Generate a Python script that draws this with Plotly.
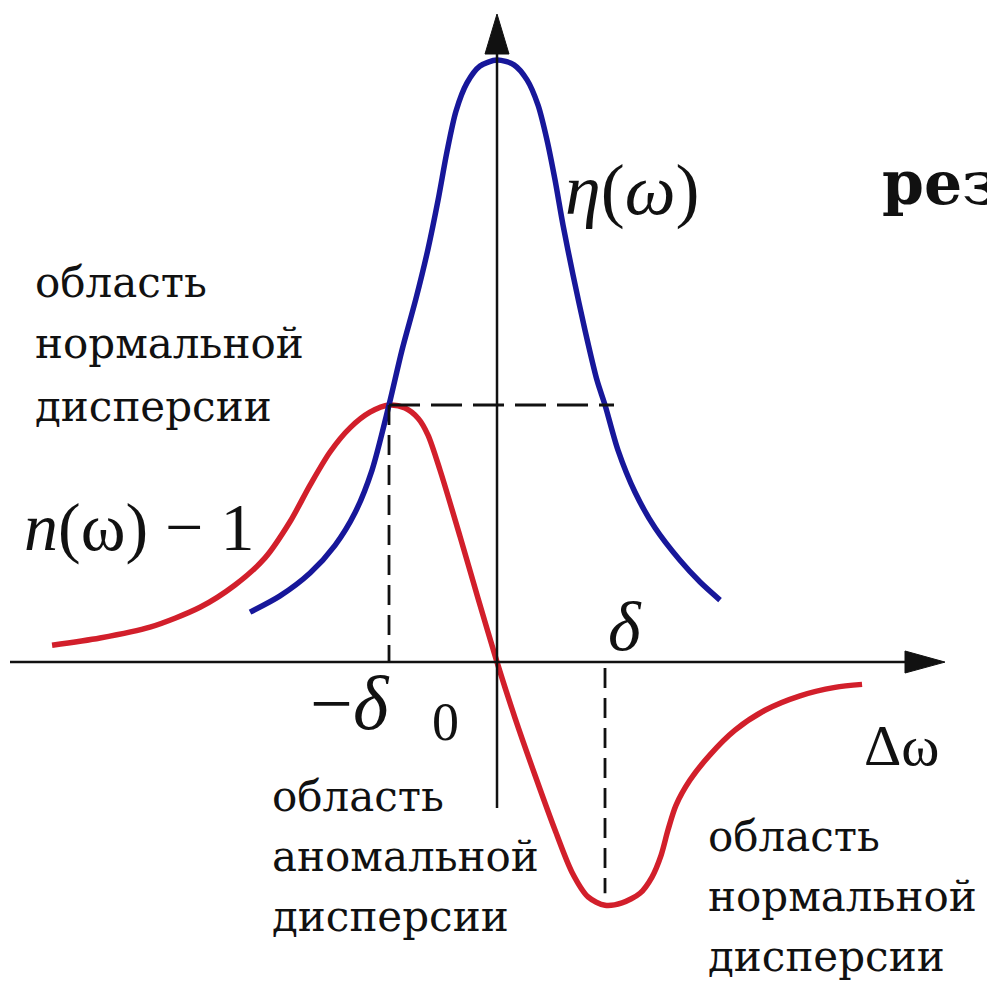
import plotly.graph_objects as go

# Frequency detuning in units of the line half-width delta
DELTA = 1.0

# Absorption coefficient eta(omega), normalised to its peak value
eta_x = [-2.287, -2.009, -1.731, -1.500, -1.315, -1.157, -1.0, -0.880, -0.750,
         -0.639, -0.546, -0.463, -0.380, -0.278, -0.157, 0.0,
         0.157, 0.278, 0.380, 0.463, 0.537, 0.611, 0.704, 0.815, 0.926,
         1.0, 1.120, 1.278, 1.463, 1.694, 1.880, 2.065]
eta_y = [0.083, 0.110, 0.148, 0.194, 0.248, 0.319, 0.427, 0.518, 0.604,
         0.686, 0.767, 0.848, 0.915, 0.962, 0.990, 1.0,
         0.992, 0.967, 0.925, 0.867, 0.801, 0.726, 0.643, 0.551, 0.468,
         0.427, 0.352, 0.282, 0.223, 0.169, 0.133, 0.103]

# Refractive index minus one, n(omega) - 1
n_x = [-4.120, -3.676, -3.213, -2.750, -2.426, -2.148, -1.917, -1.731, -1.546,
       -1.361, -1.176, -1.0, -0.852, -0.731, -0.639, -0.528, -0.343, -0.176,
       0.0, 0.167, 0.352, 0.537, 0.694, 0.843, 1.0, 1.157, 1.324, 1.435,
       1.519, 1.583, 1.657, 1.787, 1.972, 2.204, 2.481, 2.806, 3.130, 3.380]
n_y = [0.028, 0.040, 0.058, 0.091, 0.128, 0.173, 0.233, 0.294, 0.349,
       0.389, 0.415, 0.427, 0.422, 0.405, 0.377, 0.319, 0.209, 0.106,
       0.0, -0.093, -0.188, -0.279, -0.349, -0.390, -0.404, -0.400, -0.384, -0.357,
       -0.321, -0.279, -0.238, -0.196, -0.154, -0.113, -0.080, -0.056, -0.042, -0.037]

# Peak of n - 1 (reached at -delta) and its minimum (at +delta)
N_MAX = 0.427
N_MIN = -0.404

W, H = 987, 986
X_RANGE = [-4.602, 4.537]
Y_RANGE = [-0.538, 1.0997]

BLUE = "#17179a"
RED = "#d21f2b"
INK = "#111111"


def dx(p):
    """pixel column -> data x"""
    return X_RANGE[0] + p / W * (X_RANGE[1] - X_RANGE[0])


def dy(p):
    """pixel row -> data y"""
    return Y_RANGE[1] - p / H * (Y_RANGE[1] - Y_RANGE[0])


fig = go.Figure()

fig.add_trace(go.Scatter(x=n_x, y=n_y, mode="lines",
                         line=dict(color=RED, width=5.5, shape="spline", smoothing=0.8),
                         hoverinfo="skip", showlegend=False))
fig.add_trace(go.Scatter(x=eta_x, y=eta_y, mode="lines",
                         line=dict(color=BLUE, width=5.5, shape="spline", smoothing=0.8),
                         hoverinfo="skip", showlegend=False))

shapes = []
dash_h = dict(color=INK, width=2.8, dash="31px,11px")
dash_v = dict(color=INK, width=2.8, dash="20px,10px")
# dashed guides at +-delta
shapes.append(dict(type="line", x0=-DELTA, x1=dx(614), y0=N_MAX, y1=N_MAX, line=dash_h))
shapes.append(dict(type="line", x0=-DELTA, x1=-DELTA, y0=N_MAX, y1=0, line=dash_v))
shapes.append(dict(type="line", x0=DELTA, x1=DELTA, y0=dy(668), y1=N_MIN + 0.02, line=dash_v))

# coordinate axes with arrowheads
axis_line = dict(color=INK, width=2.5)
shapes.append(dict(type="line", x0=dx(10), x1=dx(910), y0=0, y1=0, line=axis_line))
shapes.append(dict(type="line", x0=0, x1=0, y0=dy(808), y1=dy(48), line=axis_line))
shapes.append(dict(type="path",
                   path=f"M {dx(945)},0 L {dx(905)},{dy(651)} L {dx(905)},{dy(673)} Z",
                   fillcolor=INK, line=dict(color=INK, width=1)))
shapes.append(dict(type="path",
                   path=f"M 0,{dy(14)} L {dx(485)},{dy(54)} L {dx(509)},{dy(54)} Z",
                   fillcolor=INK, line=dict(color=INK, width=1)))

MATH = "Liberation Serif, Times New Roman, DejaVu Serif, serif"
CYR = "DejaVu Serif, Liberation Serif, serif"
annotations = []


def label(text, x, y, size, family=MATH, xanchor="left", yanchor="middle"):
    annotations.append(dict(text=text, x=x / W, y=1 - y / H, xref="paper", yref="paper",
                            xanchor=xanchor, yanchor=yanchor, showarrow=False,
                            font=dict(family=family, size=size, color=INK)))


# region captions
for txt, yy in [("область", 282), ("нормальной", 344), ("дисперсии", 406)]:
    label(txt, 33, yy, 42, CYR)
for txt, yy in [("область", 796), ("аномальной", 856), ("дисперсии", 916)]:
    label(txt, 270, yy, 42, CYR)
for txt, yy in [("область", 836), ("нормальной", 896), ("дисперсии", 956)]:
    label(txt, 706, yy, 42, CYR)

# curve names and axis marks
label("<i>η</i>(<i>ω</i>)", 563, 190, 72)
label("<i>n</i>(ω) − 1", 22, 527, 68)
label("−<i>δ</i>", 308, 703, 76)
label("0", 430, 722, 54)
label("<i>δ</i>", 606, 626, 70)
label("Δω", 862, 745, 58)
label("<b>рез</b>", 880, 183, 60, CYR)

fig.update_layout(
    width=W, height=H,
    margin=dict(l=0, r=0, t=0, b=0),
    paper_bgcolor="white", plot_bgcolor="white",
    xaxis=dict(range=X_RANGE, visible=False, fixedrange=True),
    yaxis=dict(range=Y_RANGE, visible=False, fixedrange=True),
    shapes=shapes, annotations=annotations,
)

fig.write_html("out.html")
